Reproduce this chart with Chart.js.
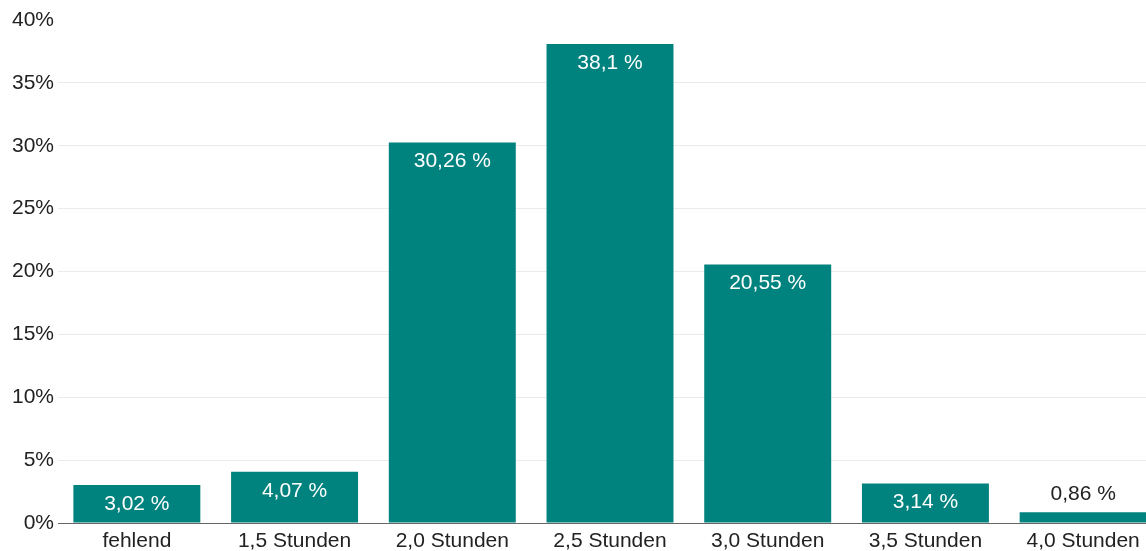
<!DOCTYPE html>
<html lang="de">
<head>
  <meta charset="UTF-8">
  <title>Stunden</title>
  <script src="https://cdn.jsdelivr.net/npm/chart.js"></script>
  <style>
    html, body { margin: 0; padding: 0; background: #fff; overflow: hidden; }
    #wrap { width: 1162px; height: 551px; }
  </style>
</head>
<body>
  <div id="wrap"><canvas id="chart" width="1162" height="551"></canvas></div>
  <script>
    const categories = ['fehlend', '1,5 Stunden', '2,0 Stunden', '2,5 Stunden', '3,0 Stunden', '3,5 Stunden', '4,0 Stunden'];
    const values = [3.02, 4.07, 30.26, 38.1, 20.55, 3.14, 0.86];
    const valueLabels = ['3,02 %', '4,07 %', '30,26 %', '38,1 %', '20,55 %', '3,14 %', '0,86 %'];

    const barColor = '#00827f';
    const font = { family: 'Liberation Sans, Arial, sans-serif', size: 21 };

    // Werte in/über den Balken schreiben
    const barLabels = {
      id: 'barLabels',
      afterDatasetsDraw(chart) {
        const ctx = chart.ctx;
        const meta = chart.getDatasetMeta(0);
        ctx.save();
        ctx.font = `${font.size}px ${font.family}`;
        ctx.textAlign = 'center';
        ctx.textBaseline = 'middle';
        meta.data.forEach((bar, i) => {
          const h = bar.base - bar.y;
          if (h > 30) {
            ctx.fillStyle = '#ffffff';
            ctx.fillText(valueLabels[i], bar.x, bar.y + 19);
          } else {
            ctx.fillStyle = '#222222';
            ctx.fillText(valueLabels[i], bar.x, bar.y - 18);
          }
        });
        ctx.restore();
      }
    };

    new Chart(document.getElementById('chart'), {
      type: 'bar',
      data: {
        labels: categories,
        datasets: [{
          data: values,
          backgroundColor: barColor,
          borderWidth: 0,
          categoryPercentage: 1,
          barPercentage: 0.805
        }]
      },
      options: {
        responsive: false,
        animation: false,
        layout: { padding: { top: 20, left: 0, right: 0, bottom: 0 } },
        plugins: { legend: { display: false }, tooltip: { enabled: false } },
        scales: {
          x: {
            grid: { display: false, drawTicks: false },
            border: { color: '#666', width: 1 },
            ticks: { color: '#222', font, padding: 6, maxRotation: 0, autoSkip: false },
            afterFit(scale) { scale.height = 28; }
          },
          y: {
            min: 0,
            max: 40,
            border: { display: false },
            grid: {
              color: c => c.tick.value === 0 ? '#666' : (c.tick.value === 40 ? 'rgba(0,0,0,0)' : '#ebebeb'),
              drawTicks: false
            },
            ticks: {
              stepSize: 5,
              color: '#222',
              font,
              padding: 4,
              callback: v => v + '%'
            },
            afterFit(scale) { scale.width = 58; }
          }
        }
      },
      plugins: [barLabels]
    });
  </script>
</body>
</html>
